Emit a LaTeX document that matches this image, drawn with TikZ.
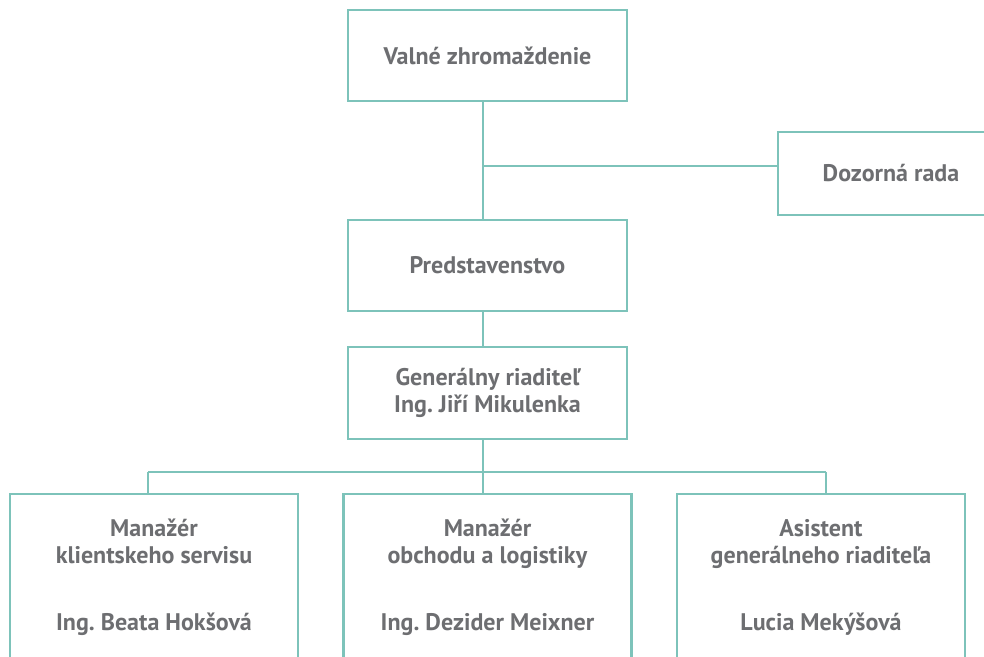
\documentclass[tikz,border=0pt]{standalone}
\usepackage{fontspec}
\setmainfont{PT Sans}
\usetikzlibrary{positioning}
\definecolor{orgline}{HTML}{7DC3BA}
\definecolor{orgtext}{HTML}{6D6E71}
\frenchspacing
\begin{document}
\begin{tikzpicture}[x=1pt, y=-1pt,
    unit/.style = {draw=orgline, line width=2.6pt, fill=white, text=orgtext,
                   font=\bfseries\fontsize{24}{27}\selectfont, align=center,
                   inner sep=0pt, minimum width=279pt, minimum height=91pt},
    dept/.style = {unit, minimum width=288pt, minimum height=166pt},
    link/.style = {draw=orgline, line width=2.6pt}]
    \clip (0,0) rectangle (984,656);
    \fill[white] (0,0) rectangle (984,656);

    % top of the chart
    \node[unit] (valne) at (487.5,55.5) {Valné zhromaždenie};
    \node[unit, minimum width=226pt, minimum height=83pt]
        (dozor) at (891,173.5) {Dozorná rada};
    \node[unit] (pred) at (487.5,265.5) {Predstavenstvo};
    \node[unit, minimum height=92pt]
        (gen) at (487.5,393) {Generálny riaditeľ\\Ing. Jiří Mikulenka};

    % managers
    \node[dept] (klient) at (154,577)
        {Manažér\\klientskeho servisu\\[40pt]Ing. Beata Hokšová};
    \node[dept] (obchod) at (487.5,577)
        {Manažér\\obchodu a logistiky\\[40pt]Ing. Dezider Meixner};
    \node[dept] (asist) at (821,577)
        {Asistent\\generálneho riaditeľa\\[40pt]Lucia Mekýšová};

    \coordinate (fork) at (483,166);
    \coordinate (trunk) at (483,472);
    \coordinate (busL) at (148,472);
    \coordinate (busR) at (826,472);

    \draw[link] (valne.south -| fork) -- (pred.north -| fork);
    \draw[link] (fork) -- (fork -| dozor.west);
    \draw[link] (pred.south -| fork) -- (gen.north -| fork);
    \draw[link] (gen.south -| trunk) -- (trunk);
    \draw[link] (busL) -- (busR);
    \draw[link] (busL) -- (busL |- klient.north);
    \draw[link] (trunk) -- (trunk |- obchod.north);
    \draw[link] (busR) -- (busR |- asist.north);
\end{tikzpicture}
\end{document}
